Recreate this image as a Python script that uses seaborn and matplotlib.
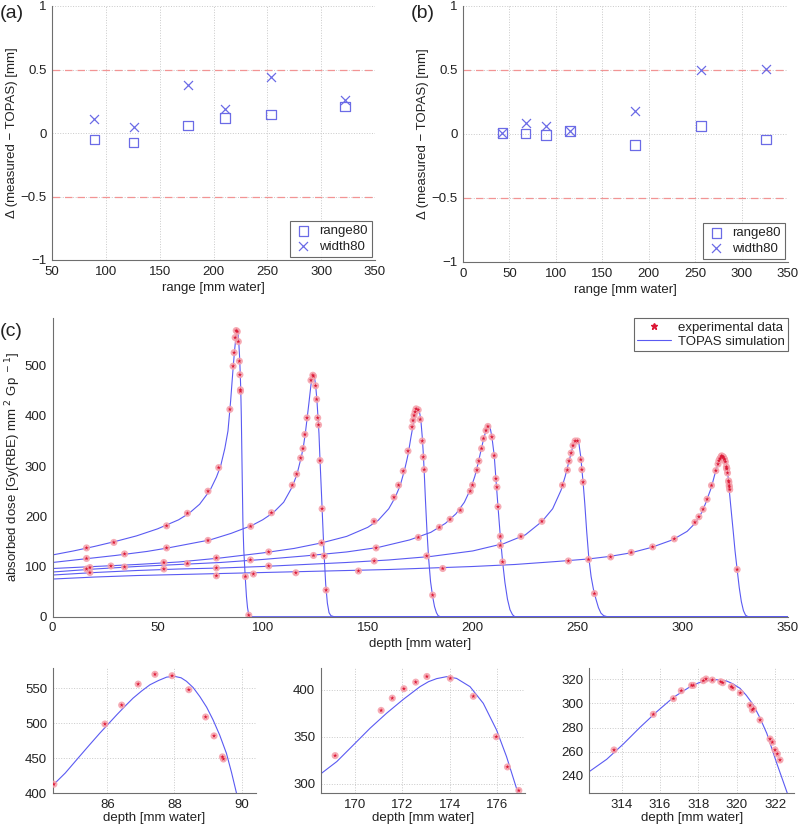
import numpy as np
import pandas as pd
import matplotlib
matplotlib.use("Agg")
import matplotlib.pyplot as plt
import seaborn as sns
from matplotlib.lines import Line2D

sns.set_theme(style="white")
plt.rcParams['font.family'] = ['Liberation Sans', 'DejaVu Sans']
plt.rcParams['font.size'] = 9.5

# --- panel (a) : range80 / width80 differences ---
a_range = [89.3, 125.8, 176.2, 210.8, 253.2, 322.2]
a_range80 = [-0.05, -0.075, 0.06, 0.12, 0.145, 0.21]
a_width80 = [0.107, 0.047, 0.38, 0.186, 0.44, 0.26]

# --- panel (b) ---
b_range = [42.4, 67.5, 89.7, 114.9, 184.9, 256.6, 326.6]
b_range80 = [0.01, 0.005, -0.008, 0.023, -0.085, 0.062, -0.044]
b_width80 = [0.008, 0.085, 0.062, 0.025, 0.181, 0.5, 0.51]

delta_ticks = [-1, -0.5, 0, 0.5, 1]
delta_labels = ['\u22121', '\u22120.5', '0', '0.5', '1']
tol_lines = [0.5, -0.5]

# --- panel (c) : TOPAS depth dose curves ---
c1_depth = [0, 10, 20, 30, 40, 50, 60, 65, 70, 75, 78, 80, 82, 83.5, 84.37, 84.75, 85.09, 85.45,
            85.78, 86.05, 86.28, 86.52, 86.77, 87.02, 87.27, 87.52, 87.77, 88.01, 88.2, 88.36,
            88.56, 88.76, 88.96, 89.15, 89.35, 89.55, 89.7, 89.85, 90.2, 90.6, 91.0, 91.7,
            92.3, 92.8, 93.3, 94.0, 95.0, 350]
c1_dose = [123, 131, 140, 150, 161, 175, 193, 206, 224, 252, 278, 300, 335, 370, 411, 429, 448, 468,
           486, 500, 512, 524, 536, 546, 555, 561, 566, 567, 565, 560,
           551, 538, 523, 505, 483, 457, 430, 400, 300, 190, 135, 80,
           40, 18, 6, 1, 0, 0]

c2_depth = [0, 15, 30, 45, 55, 65, 75, 85, 95, 100, 105, 110, 114, 116.3, 118.5, 119.5, 120.3, 121.1,
            122, 123, 123.6, 124.1, 124.6, 125.2, 125.8, 126.3, 126.8, 127.3, 128, 128.5, 129.2, 130,
            130.8, 131.6, 132.5, 134, 350]
c2_dose = [108, 115, 122, 130, 137, 145, 153, 166, 182, 193, 207, 228, 258, 283, 320, 342, 365, 393,
           425, 462, 476, 481, 478, 462, 433, 400, 365, 312, 245, 195, 128, 65,
           27, 8, 2, 0, 0]

c3_depth = [0, 20, 40, 60, 80, 100, 115, 128, 140, 150, 155, 160, 163, 165.5, 167.5, 168.55, 169.23,
            169.93, 170.63, 171.33, 172.04, 172.74, 173.1, 173.44, 173.86, 174.28, 174.85, 175.41,
            175.97, 176.39, 176.81, 177.5, 178.2, 179.0, 179.9, 180.9, 181.8, 182.7, 183.5, 184.5, 350]
c3_dose = [96, 100, 104, 109, 117, 127, 136, 147, 160, 178, 192, 215, 237, 262, 292, 310.6, 323.7,
           341.3, 359, 375, 389.8, 403.2, 408.5, 411.7, 413.8, 412, 403.2, 385.5,
           357.2, 329, 295.4, 230, 170, 115, 70, 40, 20, 8, 2, 0, 0]

c4_depth = [0, 20, 40, 60, 80, 100, 120, 140, 155, 170, 180, 187, 192, 196, 199, 201, 202.5, 204,
            205.2, 206.3, 207.4, 208.2, 209.1, 210.2, 211.0, 212.0, 213.1, 214.2, 215.3, 216.5,
            217.7, 218.9, 220, 350]
c4_dose = [89, 95, 100, 104, 108, 114, 121, 129, 138, 153, 168, 186, 205, 228, 255, 280, 305, 333,
           355, 371, 380, 378, 358, 321, 275, 219, 160, 109, 68, 35,
           14, 4, 0, 0]

c5_depth = [0, 20, 40, 60, 80, 100, 120, 140, 160, 180, 200, 215, 225, 233, 238, 242, 244, 245.5,
            246.8, 247.8, 248.8, 249.6, 250.5, 251.4, 252.0, 252.6, 253.3, 254.2, 255.2, 256.3,
            257.4, 258.6, 259.8, 261, 262.3, 264, 350]
c5_dose = [83, 88, 92, 95, 97, 100, 104, 108, 113, 120, 131, 146, 163, 190, 215, 252, 280, 305,
           326, 342, 351, 352, 345, 318, 290, 262, 225, 170, 118, 80,
           55, 35, 18, 7, 2, 0, 0]

c6_depth = [0, 20, 40, 60, 80, 100, 120, 140, 160, 180, 200, 220, 240, 255, 265, 275, 285, 295,
            302, 306, 309, 311, 312.31, 313.22, 314.09, 314.96, 315.83, 316.7, 317.57, 318.0, 318.43,
            318.96, 319.48, 319.8, 320.17, 320.5, 320.87, 321.2, 321.57, 322.09, 322.64, 323.3, 324.0,
            324.8, 325.8, 326.8, 327.8, 328.8, 329.8, 331, 350]
c6_dose = [75, 79, 82, 84, 86, 88, 90, 92, 94, 97, 100, 104, 110, 115, 120, 127, 138, 153,
           170, 187, 208, 228, 243.6, 253.8, 266.5, 280.3, 293.2, 305.1, 313.9, 317.0, 318.9,
           319.7, 318.6, 316.3, 312.6, 306.8, 298.8, 288.5, 275.3, 250.5, 225.7, 197, 167,
           131, 94, 58, 30, 12, 3, 0, 0]

# --- experimental points ---
e1_depth = [16.2, 29.2, 54.3, 64.2, 74.0, 79.1, 84.41, 85.93, 86.43, 86.92, 87.42, 87.93, 88.43,
            88.93, 89.18, 89.43, 89.46, 91.8, 93.4]
e1_dose = [137, 148, 181, 206, 250, 297, 413, 499, 526, 556, 570, 568, 548,
           509, 482, 452, 449, 80, 3]

e2_depth = [16.2, 34.3, 54.3, 74.0, 94.3, 104.2, 114.1, 116.2, 118.1, 119.2, 120.1, 121.1, 123.0,
            123.9, 124.2, 125.2, 125.7, 126.2, 126.6, 127.3, 128.3, 130.2]
e2_dose = [116, 125, 137, 152, 180, 207, 262, 284, 316, 335, 363, 396, 471,
           481, 479, 460, 433, 396, 382, 311, 215, 53]

e3_depth = [17.8, 27.8, 53.0, 78.0, 102.9, 128.1, 153.0, 162.5, 164.7, 166.9, 169.16, 171.10,
            171.57, 172.06, 172.56, 173.03, 174.02, 174.99, 175.96, 176.43, 176.91, 180.9]
e3_dose = [98, 101, 108, 117, 129, 147, 190, 238, 262, 290, 330, 378,
           391, 401, 408, 414, 412, 393, 350, 318, 293, 43]

e4_depth = [16.2, 34.3, 64.2, 94.2, 124.2, 129.3, 154.0, 174.1, 184.1, 189.2, 194.1, 198.8, 199.9,
            202.0, 202.9, 204.2, 205.1, 206.3, 207.2, 209.1, 210.2, 211.0, 211.5, 212.0, 213.1, 214.2]
e4_dose = [95, 99, 106, 113, 122, 121, 137, 158, 178, 194, 212, 250, 262,
           292, 310, 335, 355, 371, 379, 358, 321, 275, 258, 219, 160, 109]

e5_depth = [17.8, 53.0, 78.0, 102.9, 153.1, 178.1, 213.1, 222.9, 232.9, 242.7, 245.0, 245.8, 246.8,
            247.7, 248.7, 249.8, 251.4, 251.9, 252.5, 257.9]
e5_dose = [88, 95, 97, 101, 111, 121, 142, 160, 190, 262, 292, 310, 326,
           341, 350, 350, 313, 293, 268, 46]

e6_depth = [78.0, 95.6, 115.8, 145.6, 185.7, 245.5, 255.1, 265.6, 275.4, 285.6, 295.9, 305.7, 307.6,
            309.6, 311.5, 313.6, 315.65, 316.7, 317.11, 317.65, 317.74, 318.26, 318.4, 318.73, 319.17,
            319.27, 319.72, 319.79, 320.19, 320.7, 320.82, 320.87, 321.22, 321.74, 321.86, 322.0,
            322.12, 322.26, 325.8]
e6_dose = [81.5, 85, 87.5, 91, 96, 111, 114, 119, 128, 139, 155, 188, 199,
           214, 234, 261.5, 291, 304, 310.6, 315, 315, 318.9, 320.3, 319.4, 318,
           317.2, 314, 313, 308.7, 298.5, 294.6, 295.7, 286.3, 270.6, 267.9, 261.5,
           258.2, 253.2, 94]

curves = [(c1_depth, c1_dose), (c2_depth, c2_dose), (c3_depth, c3_dose),
          (c4_depth, c4_dose), (c5_depth, c5_dose), (c6_depth, c6_dose)]
points = [(e1_depth, e1_dose), (e2_depth, e2_dose), (e3_depth, e3_dose),
          (e4_depth, e4_dose), (e5_depth, e5_dose), (e6_depth, e6_dose)]

# colours
MK_BLUE = '#6b6be6'
DASH_RED = '#f29494'
LINE_BLUE = '#5a5af2'
HALO = '#f5a3ad'
DOT = '#dc1836'
GRID = '#c9c9c9'
SPINE = '#6e6e6e'
TXT = '#222222'


def style_axes(ax, grid=True):
    for side in ['top', 'right']:
        ax.spines[side].set_visible(False)
    for side in ['left', 'bottom']:
        ax.spines[side].set_color(SPINE)
        ax.spines[side].set_linewidth(0.8)
    ax.tick_params(direction='in', length=4, width=0.7, color=SPINE,
                   labelcolor=TXT, labelsize=9.5, pad=4)
    if grid:
        ax.grid(True, ls=':', color=GRID, lw=0.7)
        ax.set_axisbelow(True)


def delta_panel(ax, xr, r80, w80, xticks, xlim, ylab_x):
    style_axes(ax)
    for yv in tol_lines:
        ax.axhline(yv, ls='--', dashes=(6, 4), color=DASH_RED, lw=0.9, zorder=1)
    sns.scatterplot(x=xr, y=r80, ax=ax, marker='s', s=48, color=MK_BLUE,
                    facecolor='none', edgecolor=MK_BLUE, linewidth=0.9,
                    label='range80', zorder=3)
    sns.scatterplot(x=xr, y=w80, ax=ax, marker='x', s=42, color=MK_BLUE,
                    linewidth=0.9, label='width80', zorder=3)
    ax.set_xlim(*xlim)
    ax.set_ylim(-1, 1)
    ax.set_xticks(xticks)
    ax.set_yticks(delta_ticks)
    ax.set_yticklabels(delta_labels)
    ax.set_xlabel('range [mm water]', color=TXT, fontsize=9.5, labelpad=3)
    ax.set_ylabel('\u0394 (measured \u2212 TOPAS) [mm]', color=TXT, fontsize=9.5)
    ax.yaxis.set_label_coords(ylab_x, 0.5)
    leg = ax.legend(loc='lower right', frameon=True, fancybox=False,
                    borderaxespad=0.25, handletextpad=0.5, fontsize=9.5,
                    borderpad=0.3, labelspacing=0.25, handlelength=1.4)
    leg.get_frame().set_edgecolor('#444444')
    leg.get_frame().set_linewidth(0.8)
    for t in leg.get_texts():
        t.set_color(TXT)


def draw_dose(ax):
    for d, v in curves:
        sns.lineplot(x=d, y=v, ax=ax, sort=False, estimator=None,
                     color=LINE_BLUE, lw=0.8, zorder=2)
    for d, v in points:
        sns.scatterplot(x=d, y=v, ax=ax, marker='o', s=26, color=HALO,
                        edgecolor='none', alpha=0.9, zorder=3)
        sns.scatterplot(x=d, y=v, ax=ax, marker='*', s=10, color=DOT,
                        edgecolor='none', zorder=4)


fig = plt.figure(figsize=(8, 8.26), dpi=100)
W, H = 800.0, 826.0


def add_ax(left, top, right, bottom):
    return fig.add_axes([left / W, 1 - bottom / H, (right - left) / W, (bottom - top) / H])


# (a)
ax_a = add_ax(52, 6, 375, 260)
delta_panel(ax_a, a_range, a_range80, a_width80, [50, 100, 150, 200, 250, 300, 350], (50, 350), -0.105)

# (b)
ax_b = add_ax(463, 6, 788, 262)
delta_panel(ax_b, b_range, b_range80, b_width80, [0, 50, 100, 150, 200, 250, 300, 350], (0, 350), -0.105)

# (c)
ax_c = add_ax(52.5, 318, 788, 616.7)
style_axes(ax_c, grid=False)
draw_dose(ax_c)
ax_c.set_xlim(0, 350)
ax_c.set_ylim(0, 595)
ax_c.set_xticks([0, 50, 100, 150, 200, 250, 300, 350])
ax_c.set_yticks([0, 100, 200, 300, 400, 500])
ax_c.set_xlabel('depth [mm water]', color=TXT, fontsize=9.5, labelpad=3)
ax_c.set_ylabel('absorbed dose [Gy(RBE) mm$^{\\ 2}$ Gp$^{\\ -1}$]', color=TXT, fontsize=9.5)
ax_c.yaxis.set_label_coords(-0.040, 0.5)
handles = [Line2D([], [], ls='none', marker='*', ms=5, color=DOT, mec=DOT),
           Line2D([], [], color=LINE_BLUE, lw=0.8)]
leg = ax_c.legend(handles, ['experimental data', 'TOPAS simulation'], loc='upper right',
                  bbox_to_anchor=(1.0, 1.0), borderaxespad=0, frameon=True, fancybox=False,
                  fontsize=9.5, borderpad=0.25, labelspacing=0.15, handlelength=2.6,
                  handletextpad=0.5)
leg.get_frame().set_edgecolor('#444444')
leg.get_frame().set_linewidth(0.8)
for t in leg.get_texts():
    t.set_color(TXT)

# zoomed peaks
insets = [
    ((52.7, 668, 256, 793.3), (84.375, 90.43), (400, 579), [86, 88, 90], [400, 450, 500, 550]),
    ((320.7, 668, 525, 793.3), (168.55, 177.17), (290, 423), [170, 172, 174, 176], [300, 350, 400]),
    ((589.3, 668, 794, 793.3), (312.31, 322.99), (225.6, 329.4), [314, 316, 318, 320, 322],
     [240, 260, 280, 300, 320]),
]
for box, xl, yl, xt, yt in insets:
    ax = add_ax(*box)
    style_axes(ax)
    draw_dose(ax)
    ax.set_xlim(*xl)
    ax.set_ylim(*yl)
    ax.set_xticks(xt)
    ax.set_yticks(yt)
    ax.set_xlabel('depth [mm water]', color=TXT, fontsize=9.5, labelpad=1)
    ax.set_ylabel('')

fig.text(0.0, 1 - 14 / H, '(a)', fontsize=14, color=TXT, va='center', ha='left')
fig.text(411 / W, 1 - 14 / H, '(b)', fontsize=14, color=TXT, va='center', ha='left')
fig.text(0.0, 1 - 331 / H, '(c)', fontsize=14, color=TXT, va='center', ha='left')

fig.savefig('out.png', dpi=100)
